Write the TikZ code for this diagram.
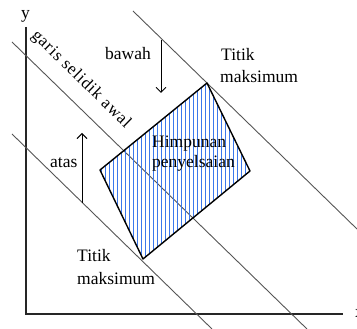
\documentclass[tikz,border=0pt]{standalone}
\usepackage{fontspec}
\setmainfont{Liberation Serif}
\newfontfamily\spacedserif[LetterSpace=5]{Liberation Serif}
\usetikzlibrary{arrows.meta}
\definecolor{hatchblue}{RGB}{60,120,235}
\definecolor{linegray}{RGB}{85,85,85}
\tikzset{
  lbl/.style={inner sep=0pt, anchor=base west, font=\fontsize{17.5}{20}\selectfont},
  diag/.style={draw=linegray, line width=0.9pt},
  axis/.style={draw=black!85, line width=1.2pt},
  region/.style={draw=black, line width=1.4pt, line join=round},
  hatch/.style={draw=hatchblue, line width=1pt},
  dirarrow/.style={draw=black, line width=0.9pt, -{Straight Barb[length=5pt,width=10pt]}}
}
\begin{document}
\begin{tikzpicture}[x=1pt,y=-1pt]
\useasboundingbox (0,0) rectangle (357,329);
% axes
\coordinate (O) at (26,314);
\coordinate (ytop) at (26,27);
\coordinate (xend) at (343,314);
\draw[axis] (ytop) -- (O) -- (xend);
\node[lbl] (ylab) at (21,19) {y};
\node[lbl] (xlab) at (355,318) {x};
% diagonal lines
\coordinate (l1a) at (12,42);
\coordinate (l1b) at (307,329);
\coordinate (l2a) at (12,134);
\coordinate (l2b) at (212,329);
\coordinate (l3a) at (133,11);
\coordinate (l3b) at (357,229);
\draw[diag] (l1a) -- (l1b);
\draw[diag] (l2a) -- (l2b);
\draw[diag] (l3a) -- (l3b);
% feasible region
\coordinate (T) at (207,83);
\coordinate (R) at (250,171);
\coordinate (B) at (143,259);
\coordinate (L) at (100,170);
\begin{scope}
  \clip (T) -- (R) -- (B) -- (L) -- cycle;
  \foreach \x in {101,105,...,253} \draw[hatch] (\x,80) -- (\x,262);
\end{scope}
\draw[region] (T) -- (R) -- (B) -- (L) -- cycle;
% labels
\node[lbl, anchor=center, rotate=-44.3, font=\fontsize{17}{20}\spacedserif] (garis) at (81,79.5) {garis selidik awal};
\node[lbl] (bawah) at (105,60) {bawah};
\node[lbl] (atas) at (50,168) {atas};
\node[lbl] (tt1) at (221,60.5) {Titik};
\node[lbl] (mk1) at (220,83) {maksimum};
\node[lbl] (him) at (152,147.5) {Himpunan};
\node[lbl] (pen) at (152,168) {penyelsaian};
\node[lbl] (tt2) at (77,261.5) {Titik};
\node[lbl] (mk2) at (77,284) {maksimum};
% arrows
\coordinate (bw1) at (161,40);
\coordinate (bw2) at (161,93);
\coordinate (at1) at (82,203);
\coordinate (at2) at (82,133);
\draw[dirarrow] (bw1) -- (bw2);
\draw[dirarrow] (at1) -- (at2);
\end{tikzpicture}
\end{document}
